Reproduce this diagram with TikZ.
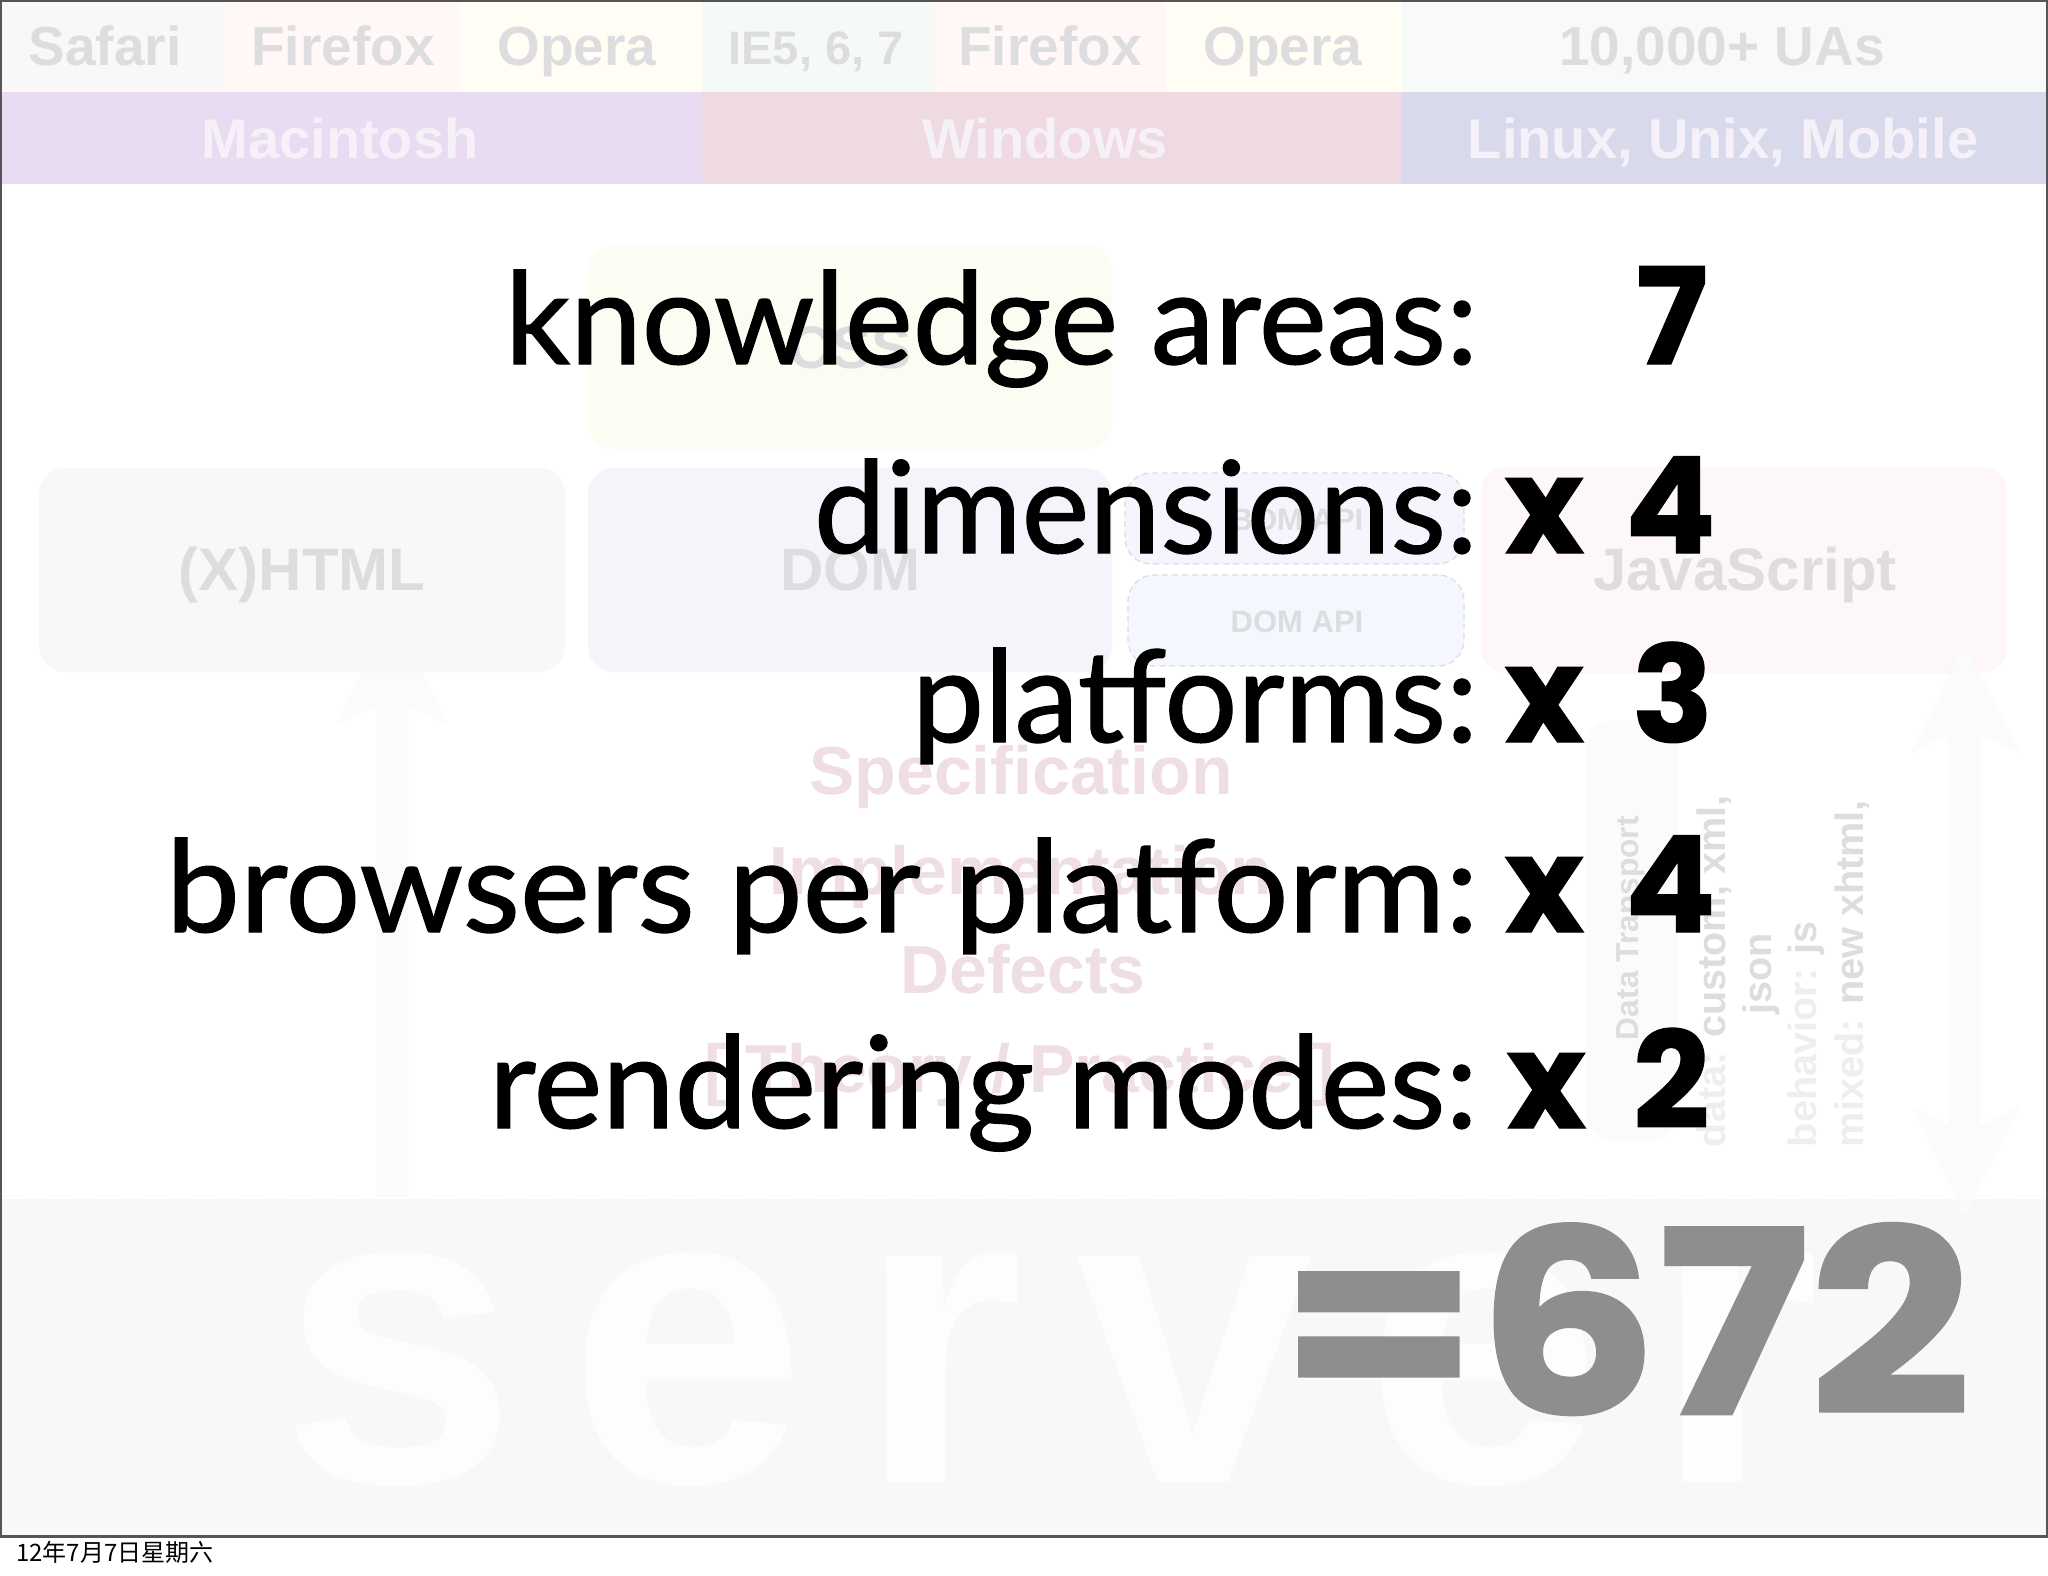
\documentclass[tikz,border=0pt]{standalone}
\usepackage{fontspec}
\usepackage{graphicx}
\setmainfont{Liberation Sans}
\newfontfamily\gillish[FakeBold=1]{Lato}
\newfontfamily\gillbold[BoldFeatures={FakeBold=1}]{Poppins}
\newfontfamily\serverfont[LetterSpace=12]{Liberation Sans}
\newfontfamily\cjkfont{Noto Sans CJK SC}
\newcommand\fs[1]{\fontsize{#1}{#1}\selectfont}
\newcommand\fitw[2]{\resizebox{#1pt}{\height}{#2}}
\definecolor{cSafari}{HTML}{F8F8FA}
\definecolor{cFox}{HTML}{FFF8F7}
\definecolor{cOpera}{HTML}{FFFDF4}
\definecolor{cIE}{HTML}{F6FAF6}
\definecolor{cUA}{HTML}{F7FAF6}
\definecolor{cMac}{HTML}{E9DBF1}
\definecolor{cWin}{HTML}{EEDAE0}
\definecolor{cLin}{HTML}{D8DAEB}
\definecolor{cTxt}{HTML}{DDDDDF}
\definecolor{cTxtLt}{HTML}{EEEEF1}
\definecolor{cPink}{HTML}{EFDFE3}
\definecolor{cBand}{HTML}{F9F7FA}
\definecolor{cArrow}{HTML}{FBFAFD}
\definecolor{cNum}{HTML}{8F8D90}
\definecolor{cFrame}{HTML}{555555}
\tikzset{
  x=1pt,y=-1pt,
  lbl/.style={anchor=base,inner sep=0pt,outer sep=0pt},
  hdr/.style={lbl,text=cTxt,font=\bfseries\fs{55}},
  plat/.style={lbl,text=white!60!cMac,font=\bfseries\fs{56}},
  boxlbl/.style={lbl,text=cTxt,font=\bfseries\fs{60}},
  apilbl/.style={lbl,text=cTxt,font=\bfseries\fs{31}},
  rbox/.style={rectangle,rounded corners=26pt,inner sep=0pt},
  apibox/.style={rbox,draw=cTxt,line width=1.3pt,dash pattern=on 6pt off 4pt},
  pinklbl/.style={lbl,text=cPink,font=\bfseries\fs{68}},
  vert/.style={rotate=90,anchor=base west,inner sep=0pt,outer sep=0pt,font=\bfseries\fs{39.6},text=cTxt},
  mainline/.style={anchor=base east,inner sep=0pt,outer sep=0pt,text=black,font=\gillish\fs{128}},
  mult/.style={anchor=base west,inner sep=0pt,outer sep=0pt,text=black,font=\gillbold\bfseries\fs{134}},
}
\begin{document}
\begin{tikzpicture}
\useasboundingbox (0,0) rectangle (2048,1576);
\fill[white] (0,0) rectangle (2048,1576);
% browser row
\fill[cSafari] (0,0) rectangle (225,92);
\fill[cFox] (225,0) rectangle (460,92);
\fill[cOpera] (460,0) rectangle (702,92);
\fill[cIE] (702,0) rectangle (934,92);
\fill[cFox] (934,0) rectangle (1166,92);
\fill[cOpera] (1166,0) rectangle (1402,92);
\fill[cUA] (1402,0) rectangle (2048,92);
% platform row
\fill[cMac] (0,92) rectangle (702,184);
\fill[cWin] (702,92) rectangle (1402,184);
\fill[cLin] (1402,92) rectangle (2048,184);
\node[hdr] (safari) at (105,66) {Safari};
\node[hdr] (firefoxa) at (343,66) {Firefox};
\node[hdr] (operaa) at (577,66) {Opera};
\node[hdr,font=\bfseries\fs{47}] (ie) at (816,65) {IE5, 6, 7};
\node[hdr] (firefoxb) at (1050,66) {Firefox};
\node[hdr] (operab) at (1283,66) {Opera};
\node[hdr] (uas) at (1722,66) {10,000+ UAs};
\node[plat] (mac) at (340,158) {Macintosh};
\node[plat] (win) at (1045,158) {Windows};
\node[plat] (lin) at (1723,158) {Linux, Unix, Mobile};
% band and arrows
\fill[cBand] (0,1199) rectangle (2048,1536);
\draw[cBand!50!white,line width=2.5pt,dash pattern=on 24pt off 24pt] (0,1196) -- (2048,1196);
\node[anchor=base west,inner sep=0pt,text=white!70!cBand,font=\serverfont\bfseries\fs{428}] (server) at (279,1482) {server};
% boxes
\fill[cArrow] (392,607) -- (447,723) -- (408,708) -- (408,1197) -- (376,1197) -- (376,708) -- (337,723) -- cycle;
\node[rbox,fill={rgb,255:red,252;green,252;blue,242},minimum width=524pt,minimum height=204pt] (cssbox) at (850,347) {};
\node[boxlbl] (css) at (850,368) {CSS};
\node[rbox,fill={rgb,255:red,248;green,248;blue,251},minimum width=526pt,minimum height=204pt] (htmlbox) at (302,570) {};
\node[boxlbl] (html) at (302,590) {(X)HTML};
\node[rbox,fill={rgb,255:red,246;green,244;blue,251},minimum width=524pt,minimum height=204pt] (dombox) at (850,570) {};
\node[boxlbl] (dom) at (850,590) {DOM};
\node[apibox,fill={rgb,255:red,245;green,245;blue,253},minimum width=339pt,minimum height=91pt] (bombox) at (1294.5,518.5) {};
\node[apilbl] (bom) at (1297,530) {BOM API};
\node[apibox,fill={rgb,255:red,244;green,248;blue,254},minimum width=336pt,minimum height=91pt] (apibox) at (1296,620.5) {};
\node[apilbl] (api) at (1297,632) {DOM API};
\node[rbox,fill={rgb,255:red,253;green,247;blue,247},minimum width=526pt,minimum height=207pt] (jsbox) at (1744,570) {};
\node[boxlbl] (js) at (1745,590) {JavaScript};
\fill[cArrow] (1965,643) -- (2020,752) -- (1980,735) -- (1980,1125) -- (2020,1107) -- (1965,1215) -- (1912,1107) -- (1948,1125) -- (1948,735) -- (1912,752) -- cycle;
% data transport
\node[rbox,fill=cArrow,minimum width=91pt,minimum height=420pt] (dtbox) at (1632,930) {};
\node[vert,font=\bfseries\fs{31.7}] (dt) at (1638,1040) {Data Transport};
\node[vert] (ldata) at (1725,1147) {\textcolor{cTxtLt}{data:} custom, xml,};
\node[vert,anchor=base] (ljson) at (1771,974) {json};
\node[vert] (lbeh) at (1816,1147) {\textcolor{cTxtLt}{behavior:} js};
\node[vert] (lmix) at (1863.5,1147) {\textcolor{cTxtLt}{mixed:} new xhtml,};
% pink
\node[pinklbl] (spec) at (1021,794) {Specification};
\node[pinklbl] (impl) at (1021,894) {Implementation};
\node[pinklbl] (defe) at (1023,993) {Defects};
\node[pinklbl] (theo) at (1020,1092) {[ Theory / Practice ]};
% main text
\node[mainline] (l1) at (1478,364) {\fitw{973}{knowledge areas:}};
\node[mainline] (l2) at (1478,553) {\fitw{664}{dimensions:}};
\node[mainline] (l3) at (1478,742) {\fitw{566}{platforms:}};
\node[mainline] (l4) at (1478,932) {\fitw{1312}{browsers per platform:}};
\node[mainline] (l5) at (1478,1128) {\fitw{989}{rendering modes:}};
\node[mult] (n7) at (1636,364) {7};
\node[mult] (x2) at (1505,553) {x};
\node[mult] (n4) at (1625,553) {4};
\node[mult] (x3) at (1505,742) {x};
\node[mult] (n3) at (1632,742) {3};
\node[mult] (x4) at (1505,932) {x};
\node[mult] (n4b) at (1625,932) {4};
\node[mult] (x5) at (1507,1128) {x};
\node[mult] (n2) at (1633,1128) {2};
\node[anchor=base west,inner sep=0pt,text=cNum,font=\gillbold\bfseries\fs{256}] (total) at (1280,1414) {\fitw{691}{=672}};
% frame
\draw[cFrame,line width=2pt] (1,1536) -- (1,1) -- (2047,1) -- (2047,1536);
\draw[cFrame,line width=3pt] (0,1536) -- (2048,1536);
\node[anchor=base west,inner sep=0pt,text=black,font=\cjkfont\fs{24}] (date) at (16,1561) {12年7月7日星期六};
\end{tikzpicture}
\end{document}
